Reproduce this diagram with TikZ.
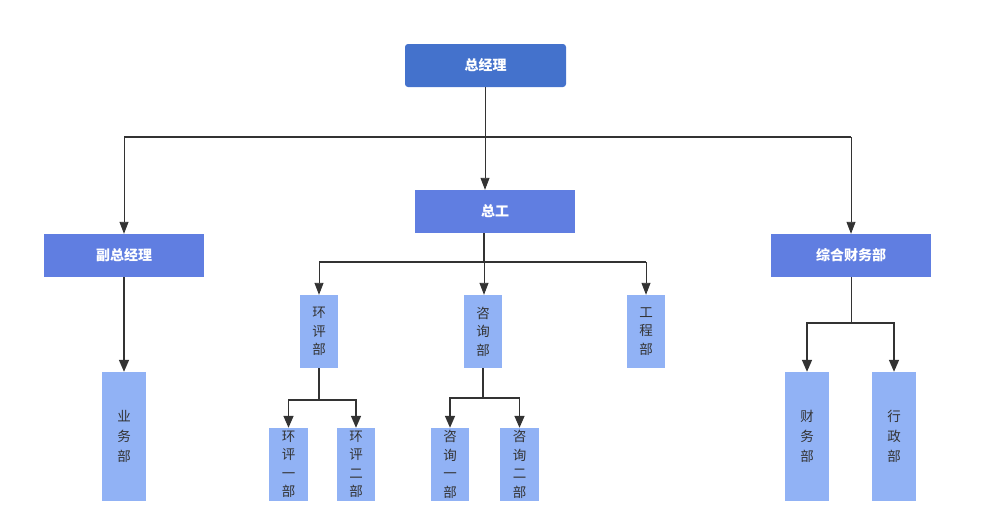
\documentclass[tikz,border=0pt]{standalone}
\usepackage{fontspec}
\usepackage{tikz}
\usepackage{xcolor}
\usetikzlibrary{arrows.meta, positioning}
\newfontfamily\cjk{Noto Sans CJK SC}

\definecolor{headblue}{RGB}{68,114,204}
\definecolor{midblue}{RGB}{96,126,225}
\definecolor{lightblue}{RGB}{145,178,245}
\definecolor{linegray}{RGB}{51,51,51}

\begin{document}
\begin{tikzpicture}[x=1pt, y=-1pt,
    headbox/.style={rectangle, rounded corners=3pt, fill=headblue, text=white, inner sep=0pt,
        minimum width=161pt, minimum height=43pt, font=\cjk\fontsize{14}{16}\selectfont\bfseries},
    midbox/.style={rectangle, fill=midblue, text=white, inner sep=0pt,
        minimum width=160pt, minimum height=43pt, font=\cjk\fontsize{14}{16}\selectfont\bfseries},
    deptbox/.style={rectangle, fill=lightblue, text=linegray, inner sep=0pt, align=center,
        minimum width=38pt, minimum height=73pt, font=\cjk\fontsize{13.5}{18.5}\selectfont},
    tallbox/.style={deptbox, minimum width=44pt, minimum height=129pt,
        font=\cjk\fontsize{13.5}{20}\selectfont},
    link/.style={draw=linegray, line width=1.5pt},
    thin link/.style={draw=linegray, line width=0.9pt},
    arrow/.style={link, -{Triangle[length=12pt, width=10pt]}},
    thin arrow/.style={thin link, -{Triangle[length=12pt, width=9pt]}}]
    \useasboundingbox (0,0) rectangle (1000,528);

    % top levels
    \node[headbox] (gm) at (485.5,65.5) {总经理};
    \node[midbox] (zg) at (495,211.5) {总工};
    \node[midbox] (fz) at (124,255.5) {副总经理};
    \node[midbox] (zh) at (851,255.5) {综合财务部};

    % departments
    \node[deptbox] (hp) at (319,331.5) {环\\评\\部};
    \node[deptbox] (zx) at (483,331.5) {咨\\询\\部};
    \node[deptbox] (gc) at (646,331.5) {工\\程\\部};
    \node[tallbox] (yw) at (124,436.5) {业\\务\\部};
    \node[deptbox, minimum width=39pt] (hp1) at (288.5,464.5) {环\\评\\一\\部};
    \node[deptbox] (hp2) at (356,464.5) {环\\评\\二\\部};
    \node[deptbox] (zx1) at (450,464.5) {咨\\询\\一\\部};
    \node[deptbox, minimum width=39pt] (zx2) at (519.5,464.5) {咨\\询\\二\\部};
    \node[tallbox] (cw) at (807,436.5) {财\\务\\部};
    \node[tallbox] (xz) at (894,436.5) {行\\政\\部};

    % junctions
    \coordinate (j1) at (485,137);
    \coordinate (j2) at (484,262);
    \coordinate (j3) at (319,400);
    \coordinate (j4) at (483,398);
    \coordinate (j5) at (851,323);

    \draw[thin arrow] (j1 |- gm.south) to (j1 |- zg.north);
    \draw[link] (j1) -- (j1 -| fz.north);
    \draw[link] (j1) -- (j1 -| zh.north);
    \draw[thin arrow] (j1 -| fz.north) to (fz.north);
    \draw[thin arrow] (j1 -| zh.north) to (zh.north);

    \draw[link] (j2 |- zg.south) to (j2);
    \draw[link] (j2) -- (j2 -| hp.north)
        (j2) -- (j2 -| gc.north);
    \draw[thin arrow] (j2 -| hp.north) to (hp.north);
    \draw[thin arrow] (j2) to (j2 |- zx.north);
    \draw[thin arrow] (j2 -| gc.north) to (gc.north);

    \draw[arrow] (fz.south) to (yw.north);

    \draw[link] (hp.south) to (j3);
    \draw[arrow] (j3) -| (hp1.north);
    \draw[arrow] (j3) -| (hp2.north);

    \draw[link] (zx.south) to (j4);
    \draw[arrow] (j4) -| (zx1.north);
    \draw[arrow] (j4) -| (zx2.north);

    \draw[thin link] (zh.south) to (j5);
    \draw[arrow] (j5) -| (cw.north);
    \draw[arrow] (j5) -| (xz.north);
\end{tikzpicture}
\end{document}
